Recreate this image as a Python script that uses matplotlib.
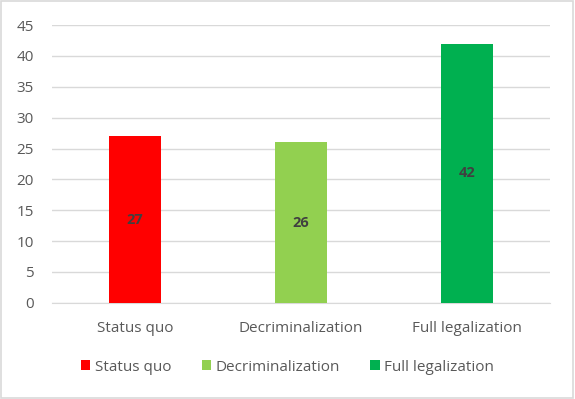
import matplotlib
matplotlib.use("Agg")
import matplotlib.pyplot as plt
from matplotlib.patches import Rectangle

categories = ["Status quo", "Decriminalization", "Full legalization"]
values = [27, 26, 42]
colors = ["#FF0000", "#92D050", "#00B050"]
yticks = [0, 5, 10, 15, 20, 25, 30, 35, 40, 45]

plt.rcParams['font.family'] = ['Open Sans', 'DejaVu Sans']

fig = plt.figure(figsize=(5.75, 3.99), dpi=100)
ax = fig.add_axes([0.090, 0.241, 0.867, 0.696])

x = list(range(len(categories)))
bars = ax.bar(x, values, width=0.31, color=colors, label=categories, zorder=3)
for xi, v in zip(x, values):
    ax.text(xi, v / 2, str(v), ha='center', va='center', fontsize=10.5,
            fontweight='bold', color='#404040', zorder=4)

ax.set_xlim(-0.5, 2.5)
ax.set_ylim(0, 45)
ax.set_yticks(yticks)
ax.set_xticks(x)
ax.set_xticklabels(categories)
ax.tick_params(axis='both', length=0, labelsize=11, colors='#595959')
ax.tick_params(axis='x', pad=13)
ax.tick_params(axis='y', pad=13)
ax.grid(axis='y', color='#D9D9D9', linewidth=1, zorder=0)
for s in ['top', 'right', 'left']:
    ax.spines[s].set_visible(False)
ax.spines['bottom'].set_color('#D9D9D9')
ax.spines['bottom'].set_zorder(2)

leg = fig.legend(handles=bars, labels=categories, loc='center',
                 bbox_to_anchor=(0.5, 0.08), ncol=3, frameon=False,
                 fontsize=11, handlelength=0.6, handleheight=0.6,
                 handletextpad=0.3, columnspacing=2.0)
for t in leg.get_texts():
    t.set_color('#595959')

fig.add_artist(Rectangle((0.002, 0.003), 0.995, 0.994, transform=fig.transFigure,
                         fill=False, edgecolor='#D9D9D9', linewidth=1.2))

fig.savefig("out.png", dpi=100)
